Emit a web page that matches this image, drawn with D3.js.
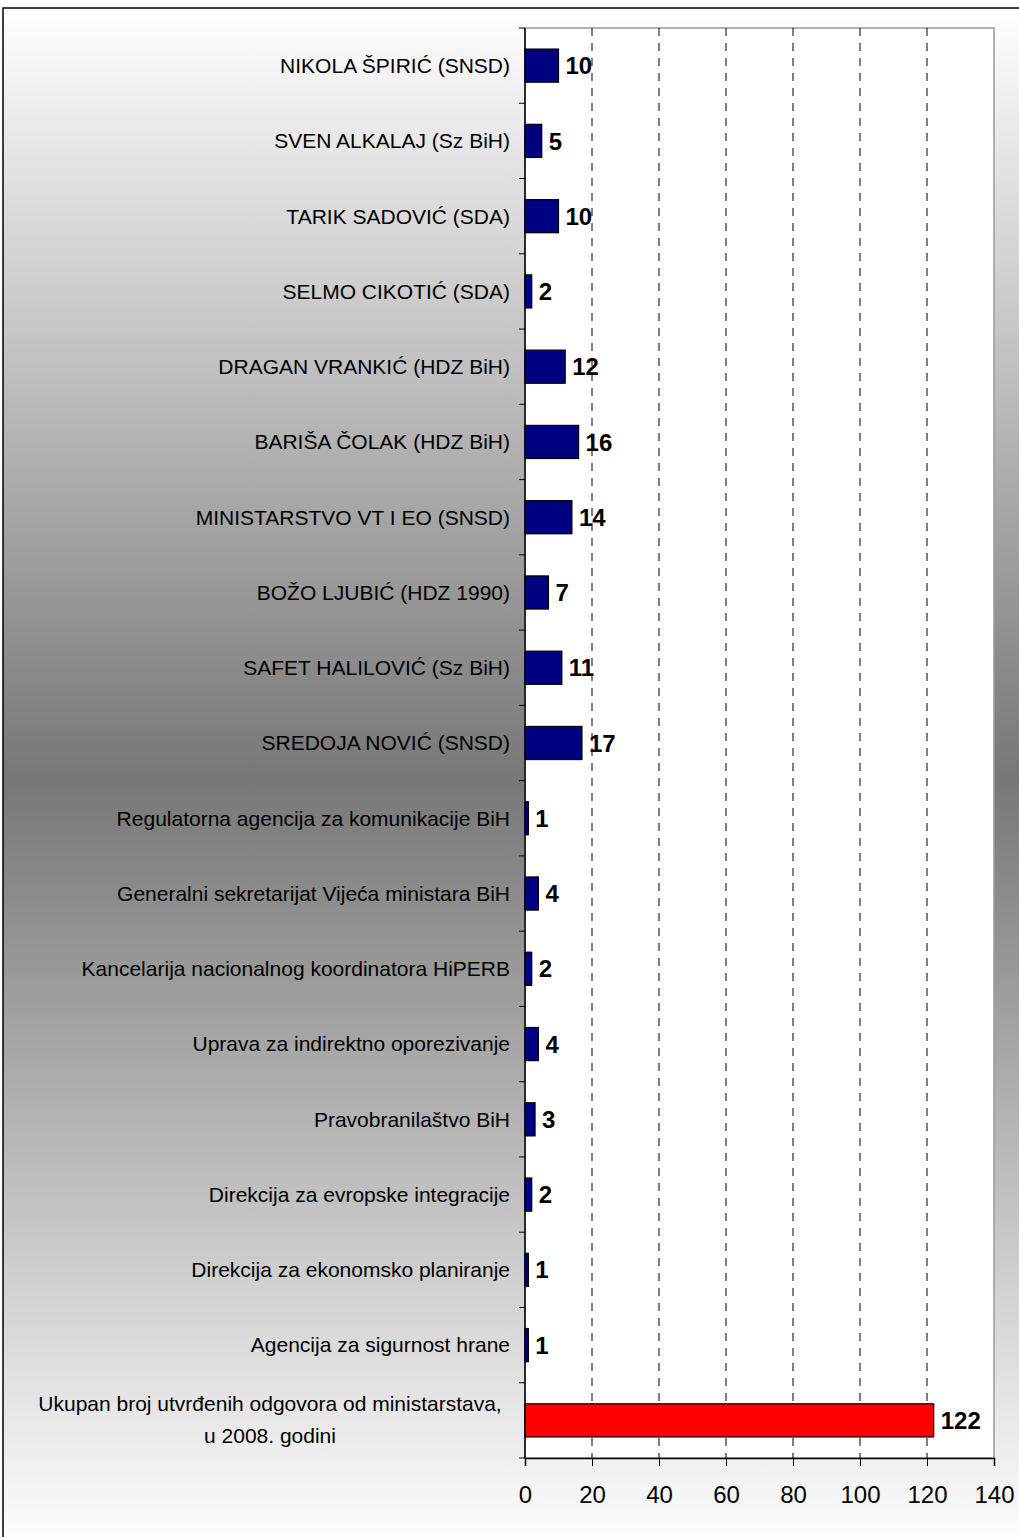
<!DOCTYPE html>
<html>
<head>
<meta charset="utf-8">
<script src="https://cdn.jsdelivr.net/npm/d3@7"></script>
<style>
  body { margin: 0; background: #fff; }
  svg text { font-family: "Liberation Sans", Arial, sans-serif; }
</style>
</head>
<body>
<script>
    // odgovori po ministru / instituciji
    var categories = [
        'NIKOLA ŠPIRIĆ (SNSD)',
        'SVEN ALKALAJ (Sz BiH)',
        'TARIK SADOVIĆ (SDA)',
        'SELMO CIKOTIĆ (SDA)',
        'DRAGAN VRANKIĆ (HDZ BiH)',
        'BARIŠA ČOLAK (HDZ BiH)',
        'MINISTARSTVO VT I EO (SNSD)',
        'BOŽO LJUBIĆ (HDZ 1990)',
        'SAFET HALILOVIĆ (Sz BiH)',
        'SREDOJA NOVIĆ (SNSD)',
        'Regulatorna agencija za komunikacije BiH',
        'Generalni sekretarijat Vijeća ministara BiH',
        'Kancelarija nacionalnog koordinatora HiPERB',
        'Uprava za indirektno oporezivanje',
        'Pravobranilaštvo BiH',
        'Direkcija za evropske integracije',
        'Direkcija za ekonomsko planiranje',
        'Agencija za sigurnost hrane',
        'Ukupan broj utvrđenih odgovora od ministarstava,|u 2008. godini'
    ];
    var values = [10, 5, 10, 2, 12, 16, 14, 7, 11, 17, 1, 4, 2, 4, 3, 2, 1, 1, 122];
    var xTicks = [0, 20, 40, 60, 80, 100, 120, 140];

    (function () {
        'use strict';

        var width = 1019;
        var height = 1537;
        var pl = 525, pr = 994, pt = 28, pb = 1458;

        var svg = d3.select('body').append('svg')
            .attr('width', width)
            .attr('height', height);

        var grad = svg.append('defs').append('linearGradient')
            .attr('id', 'bg')
            .attr('x1', 0).attr('y1', 0).attr('x2', 0).attr('y2', 1);
        grad.append('stop').attr('offset', '0%').attr('stop-color', '#ffffff');
        grad.append('stop').attr('offset', '50%').attr('stop-color', '#777777');
        grad.append('stop').attr('offset', '100%').attr('stop-color', '#ffffff');

        svg.append('rect')
            .attr('x', 3).attr('y', 8)
            .attr('width', 1030).attr('height', 1540)
            .attr('fill', 'url(#bg)')
            .attr('stroke', '#000')
            .attr('stroke-width', 1.5);

        var x = d3.scaleLinear().domain([0, 140]).range([pl, pr]);
        var y = d3.scaleBand().domain(d3.range(categories.length))
            .range([pt, pb]).paddingInner(0.56).paddingOuter(0.28);
        var step = (pb - pt) / categories.length;

        // plot area
        svg.append('rect')
            .attr('x', pl).attr('y', pt)
            .attr('width', pr - pl).attr('height', pb - pt)
            .attr('fill', '#fff')
            .attr('stroke', '#999')
            .attr('stroke-width', 1.5);

        // grid
        svg.append('g').selectAll('line')
            .data(xTicks.slice(1, -1))
          .enter().append('line')
            .attr('x1', function (d) { return x(d); })
            .attr('x2', function (d) { return x(d); })
            .attr('y1', pt).attr('y2', pb)
            .attr('stroke', '#000')
            .attr('stroke-dasharray', '8,7');

        // bars
        svg.append('g').selectAll('rect')
            .data(values)
          .enter().append('rect')
            .attr('x', x(0))
            .attr('y', function (d, i) { return y(i); })
            .attr('width', function (d) { return x(d) - x(0); })
            .attr('height', y.bandwidth())
            .attr('fill', function (d, i) { return i === values.length - 1 ? '#ff0000' : '#000080'; })
            .attr('stroke', '#000')
            .attr('stroke-width', 1.2);

        // value labels
        svg.append('g').selectAll('text')
            .data(values)
          .enter().append('text')
            .attr('x', function (d) { return x(d) + 7; })
            .attr('y', function (d, i) { return y(i) + y.bandwidth() / 2; })
            .attr('dy', '0.36em')
            .attr('font-size', 24)
            .attr('font-weight', 'bold')
            .text(function (d) { return d; });

        // category labels
        svg.append('g').selectAll('text')
            .data(categories)
          .enter().append('text')
            .attr('font-size', 21)
            .attr('fill', '#000')
            .each(function (d, i) {
                var t = d3.select(this);
                var cy = pt + step * (i + 0.5);
                var lines = d.split('|');
                if (lines.length === 1) {
                    t.attr('x', pl - 15).attr('y', cy).attr('dy', '0.35em')
                        .attr('text-anchor', 'end').text(d);
                } else {
                    t.attr('text-anchor', 'middle');
                    lines.forEach(function (s, k) {
                        t.append('tspan')
                            .attr('x', 270)
                            .attr('y', cy - 17 + k * 32)
                            .attr('dy', '0.35em')
                            .text(s);
                    });
                }
            });

        // y axis
        var ya = svg.append('g');
        ya.append('line')
            .attr('x1', pl).attr('x2', pl)
            .attr('y1', pt).attr('y2', pb)
            .attr('stroke', '#000').attr('stroke-width', 1.5);
        ya.selectAll('line.tk')
            .data(d3.range(categories.length + 1))
          .enter().append('line')
            .attr('class', 'tk')
            .attr('x1', pl - 6).attr('x2', pl)
            .attr('y1', function (d) { return pt + step * d; })
            .attr('y2', function (d) { return pt + step * d; })
            .attr('stroke', '#000');

        // x axis
        var xa = svg.append('g')
            .attr('transform', 'translate(0,' + pb + ')')
            .call(d3.axisBottom(x).tickValues(xTicks).tickSize(8).tickPadding(20));
        xa.select('.domain').attr('stroke-width', 1.5);
        xa.selectAll('text')
            .attr('font-size', 24)
            .attr('font-family', '"Liberation Sans", Arial, sans-serif')
            .attr('fill', '#000');
    })();
</script>
</body>
</html>
